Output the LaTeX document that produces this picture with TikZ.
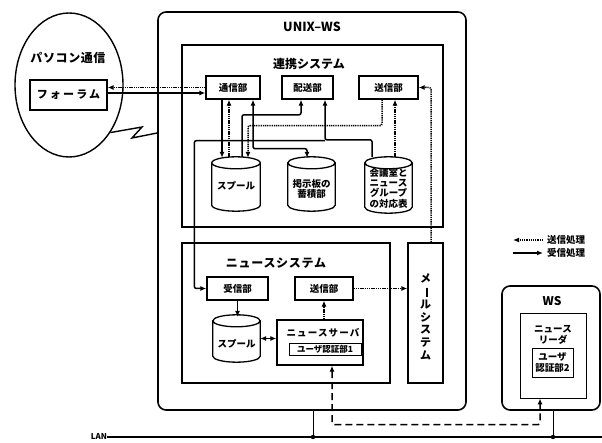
\documentclass[tikz,border=0pt]{standalone}
\usepackage{fontspec}
\usepackage{graphicx}
\setmainfont{Noto Sans CJK JP}
\usetikzlibrary{arrows.meta,calc,shapes.geometric}
\newcommand\cylo[1]{\draw[line width=1.3pt] let \p1=(#1.north west),\p2=(#1.south east),\n1={(\x2-\x1)/2} in
 ({(\x1+\x2)/2},{\y1-6pt}) ellipse[x radius=\n1,y radius=6pt]
 (\x1,{\y1-6pt}) -- (\x1,{\y2+6pt}) arc[start angle=180,end angle=360,x radius=\n1,y radius=6pt] -- (\x2,{\y1-6pt});}
\begin{document}
\begin{tikzpicture}[x=1pt,y=-1pt,
 >={Latex[length=6pt,width=5pt]},
 every node/.style={inner sep=0pt, font=\bfseries\fontsize{9.5}{10.5}\selectfont, align=center},
 bx/.style={draw, line width=1.3pt},
 tbx/.style={draw, line width=0.9pt},
 ttl/.style={font=\bfseries\fontsize{12}{14}\selectfont},
 rcv/.style={line width=1.5pt, rounded corners=2pt, ->},
 rcvb/.style={line width=1.5pt, rounded corners=2pt, <->},
 snd/.style={line width=1.5pt, rounded corners=2pt, dash pattern=on 1.3pt off 0.9pt, ->},
 dsh/.style={line width=1.5pt, rounded corners=2pt, dash pattern=on 7pt off 4pt, <->},
 thn/.style={line width=0.9pt}]
\useasboundingbox (0,0) rectangle (602,443);

% outer boxes
\node[draw, line width=1.6pt, rounded corners=8pt, minimum width=308pt, minimum height=398pt] (unix) at (312,211) {};
\node[font=\bfseries\fontsize{12.5}{14}\selectfont] (unixt) at (312,27) {UNIX–WS};
\node[bx, minimum width=261pt, minimum height=182pt] (renkei) at (312.5,136) {};
\node[ttl] (rkt) at (309,64) {連携システム};
\node[bx, minimum width=208pt, minimum height=140pt] (news) at (286,313) {};
\node[ttl, font=\bfseries\fontsize{12}{14}\selectfont\addfontfeatures{LetterSpace=6}] (nst) at (276,263) {ニュースシステム};
\node[bx, minimum width=35pt, minimum height=140pt] (mail) at (425.5,313) {};
\node[font=\bfseries\fontsize{11}{12.8}\selectfont] (mailt) at ($(mail)+(0,4)$) {メ\\\rotatebox[origin=c]{-90}{ー}\\ル\\シ\\ス\\テ\\ム};

% PC communication
\node[draw, ellipse, line width=1.4pt, minimum width=108pt, minimum height=144pt] (pc) at (69,85) {};
\node[ttl, font=\bfseries\fontsize{12}{14}\selectfont\addfontfeatures{LetterSpace=5}] (pct) at (68,58) {パソコン通信};
\node[bx, minimum width=77pt, minimum height=30pt, font=\bfseries\fontsize{11}{13}\selectfont\addfontfeatures{LetterSpace=20}] (forum) at (68.5,95) {フォーラム};
\draw[line width=1.4pt] (pc.-49) -- (142,127) -- (132,138) -- ($(unix.west)+(0,-78)$);

% renkei system parts
\node[bx, minimum width=54pt, minimum height=23pt] (tsu) at (233,87.5) {通信部};
\node[bx, minimum width=51pt, minimum height=23pt] (hai) at (307.5,87.5) {配送部};
\node[bx, minimum width=59pt, minimum height=23pt] (sou1) at (388.5,87.5) {送信部};
\node[minimum width=48pt, minimum height=54pt] (sp1) at (236,184) {};
\cylo{sp1}
\node (sp1t) at ($(sp1)+(0,2)$) {スプール};
\node[minimum width=47pt, minimum height=54pt] (keiji) at (311.5,184) {};
\cylo{keiji}
\node (keijit) at ($(keiji)+(0,5)$) {掲示板の\\蓄積部};
\node[minimum width=47pt, minimum height=56pt] (taiou) at (388.5,185) {};
\cylo{taiou}
\node[font=\bfseries\fontsize{9.5}{10.3}\selectfont] (taiout) at ($(taiou)+(0,3)$) {会議室と\\ニュース\\グループ\\の対応表};

% news system parts
\node[bx, minimum width=61pt, minimum height=23pt] (jushin) at (237.5,288.5) {受信部};
\node[bx, minimum width=58pt, minimum height=23pt] (nsou) at (324,288.5) {送信部};
\node[minimum width=47pt, minimum height=47pt] (sp2) at (236.5,338.5) {};
\cylo{sp2}
\node (sp2t) at ($(sp2)+(0,5)$) {スプール};
\node[bx, minimum width=86pt, minimum height=45pt] (server) at (320,342.5) {};
\node[font=\bfseries\fontsize{9.5}{11}\selectfont\addfontfeatures{LetterSpace=12}] (servert) at (323,333) {ニュースサーバ};
\node[tbx, minimum width=72pt, minimum height=12pt, font=\bfseries\fontsize{8.5}{10}\selectfont] (auth1) at (325,349) {ユーザ認証部1};

% WS
\node[draw, line width=1.6pt, rounded corners=8pt, minimum width=98pt, minimum height=124pt] (ws) at (551,348) {};
\node[font=\bfseries\fontsize{12}{14}\selectfont] (wst) at (552,301) {WS};
\node[tbx, minimum width=66pt, minimum height=85pt] (reader) at (553,355.5) {};
\node (readert) at (553,335) {ニュース\\リーダ};
\node[tbx, minimum width=41pt, minimum height=29pt] (auth2) at (552.5,362.5) {ユーザ\\認証部2};

% legend
\node[anchor=west] (lg1) at (547,240) {送信処理};
\node[anchor=west] (lg2) at (547,253) {受信処理};
\draw[snd] ($(lg1.west)+(-4,0)$) -- ++(-30,0);
\draw[rcv] ($(lg2.west)+(-34,0)$) -- ++(30,0);

% forum <-> tsushin
\draw[snd] (tsu.west) -- (tsu.west -| forum.east);
\draw[rcv] ($(forum.east)+(0,-2)$) -- ($(tsu.west)+(0,5.5)$);

% renkei internal connectors
\draw[rcv] ($(tsu.south)+(-11,0)$) -- ($(sp1.north)+(-14,1)$);
\draw[snd] ($(sp1.north)+(-7,0)$) -- ($(tsu.south)+(-4,0)$);
\draw[rcvb] ($(tsu.south)+(20,0)$) -- ++(0,49) -| ($(keiji.north)+(-4.5,1)$);
\draw[rcv] ($(sp1.north)+(6,0)$) -- ++(0,-42) -| ($(hai.south)+(-6.5,0)$);
\draw[snd] ($(sou1.south)+(-6.5,0)$) -- ++(0,26) -| ($(sp1.north)+(12,1)$);
\draw[rcv] ($(taiou.north)+(-16.5,0)$) -- ++(0,-17) -| ($(hai.south)+(17.5,0)$);
\draw[rcv] ($(hai.south)+(17.5,41)$) -| ($(jushin.west)+(-12,0)$) -- (jushin.west);
\draw[snd] ($(taiou.north)+(6.5,0)$) -- ($(sou1.south)+(6.5,0)$);
\draw[snd] ($(mail.north)+(5.5,0)$) |- (sou1.east);

% news internal connectors
\draw[snd] (nsou.east) -- (nsou.east -| mail.west);
\draw[snd] (nsou.south |- server.north) -- (nsou.south);
\draw[rcv] (jushin.south) -- ($(jushin.south |- sp2.north)+(0,2)$);
\draw[rcvb] (sp2.east) -- (sp2.east -| server.west);
\draw[dsh] ($(server.south)+(12,0)$) -- ++(0,59) -| ($(reader.south)+(-13,0)$);

% LAN
\node[font=\bfseries\fontsize{8}{9}\selectfont] (lan) at (99,437) {LAN};
\coordinate (lanend) at (602,437);
\draw[line width=1.4pt] (lan.east) -- (lanend);
\coordinate (lu) at ($(unix.south)+(1,0)$);
\coordinate (lw) at ($(ws.south)+(2,0)$);
\draw[thn] (lu) -- (lu |- lan.east);
\draw[thn] (lw) -- (lw |- lan.east);
\fill (lu |- lan.east) circle[radius=2.2pt];
\fill (lw |- lan.east) circle[radius=2.2pt];
\end{tikzpicture}
\end{document}
